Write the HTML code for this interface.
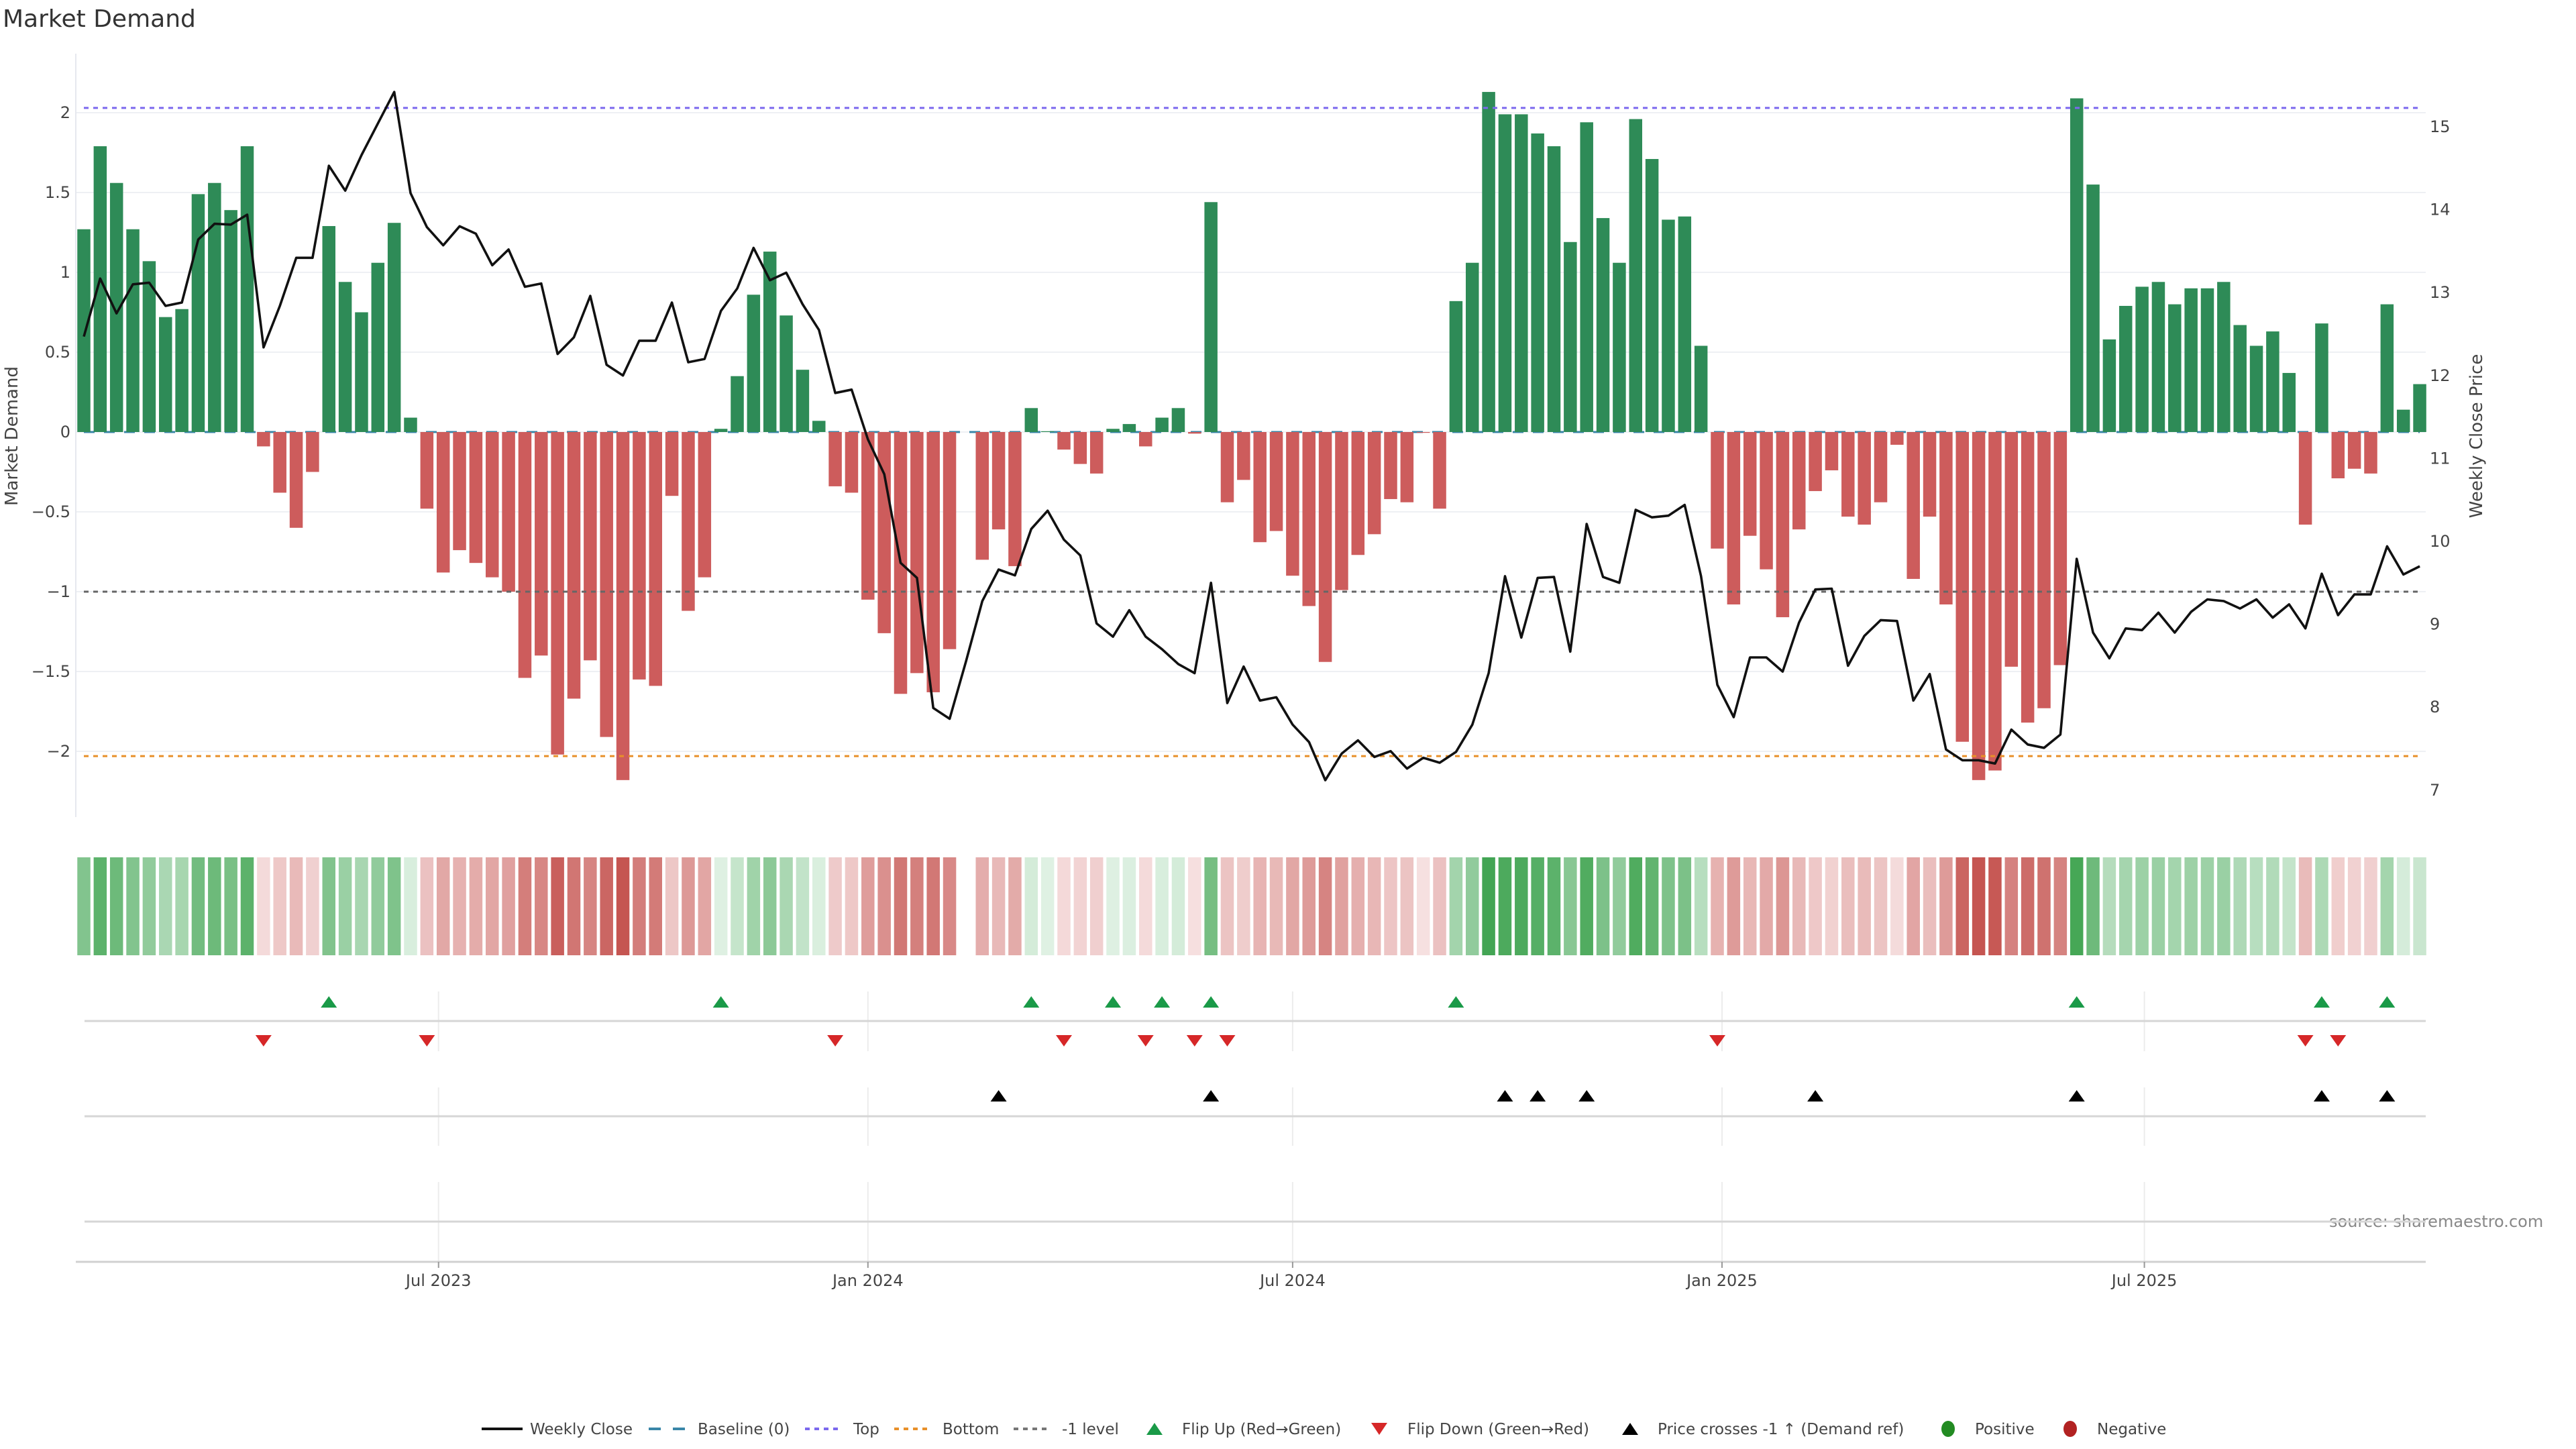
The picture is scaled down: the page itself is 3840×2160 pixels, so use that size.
<!DOCTYPE html>
<html><head><meta charset="utf-8"><title>Market Demand</title>
<style>
html,body{margin:0;padding:0;background:#fff;}
svg{display:block;font-family:"DejaVu Sans","Liberation Sans",sans-serif;}
</style></head>
<body>
<svg id="chart" width="3840" height="2160" viewBox="0 0 3840 2160" xmlns="http://www.w3.org/2000/svg">
<rect x="0" y="0" width="3840" height="2160" fill="#fff"/>
<text x="4" y="40" font-size="36" fill="#333">Market Demand</text>
<text transform="translate(26,650) rotate(-90)" text-anchor="middle" font-size="26" fill="#444">Market Demand</text>
<text transform="translate(3700,650) rotate(-90)" text-anchor="middle" font-size="26" fill="#444">Weekly Close Price</text>
<text x="3472" y="1829" font-size="24" fill="#888">source: sharemaestro.com</text>
<g id="plot"></g>
<g id="legend" font-size="23" fill="#444">
  <g><line x1="718" y1="2130" x2="779" y2="2130" stroke="#111" stroke-width="4"/><text x="790" y="2138">Weekly Close</text></g>
  <g><line x1="967" y1="2130" x2="1022" y2="2130" stroke="#3a86a8" stroke-width="4" stroke-dasharray="18,18"/><text x="1040" y="2138">Baseline (0)</text></g>
  <g><line x1="1200" y1="2130" x2="1255" y2="2130" stroke="#7b68ee" stroke-width="4" stroke-dasharray="7,7"/><text x="1272" y="2138">Top</text></g>
  <g><line x1="1333" y1="2130" x2="1388" y2="2130" stroke="#e8902a" stroke-width="4" stroke-dasharray="7,7"/><text x="1405" y="2138">Bottom</text></g>
  <g><line x1="1511" y1="2130" x2="1566" y2="2130" stroke="#777" stroke-width="4" stroke-dasharray="7,7"/><text x="1583" y="2138">-1 level</text></g>
  <g><path d="M1709,2139 L1733,2139 L1721,2121 Z" fill="#1a9a48"/><text x="1762" y="2138">Flip Up (Red→Green)</text></g>
  <g><path d="M2044,2121 L2068,2121 L2056,2139 Z" fill="#d62728"/><text x="2098" y="2138">Flip Down (Green→Red)</text></g>
  <g><path d="M2418,2139 L2442,2139 L2430,2121 Z" fill="#000"/><text x="2471" y="2138">Price crosses -1 ↑ (Demand ref)</text></g>
  <g><ellipse cx="2904" cy="2130" rx="10" ry="12" fill="#228b22"/><text x="2944" y="2138">Positive</text></g>
  <g><ellipse cx="3086" cy="2130" rx="10" ry="12" fill="#b22222"/><text x="3126" y="2138">Negative</text></g>
</g>
</svg>
<script>
const demand = [1.27,1.79,1.56,1.27,1.07,0.72,0.77,1.49,1.56,1.39,
1.79,-0.09,-0.38,-0.6,-0.25,1.29,0.94,0.75,1.06,1.31,
0.09,-0.48,-0.88,-0.74,-0.82,-0.91,-1.0,-1.54,-1.4,-2.02,
-1.67,-1.43,-1.91,-2.18,-1.55,-1.59,-0.4,-1.12,-0.91,0.02,
0.35,0.86,1.13,0.73,0.39,0.07,-0.34,-0.38,-1.05,-1.26,
-1.64,-1.51,-1.63,-1.36,null,-0.8,-0.61,-0.84,0.15,0.005,
-0.11,-0.2,-0.26,0.02,0.05,-0.09,0.09,0.15,-0.01,1.44,
-0.44,-0.3,-0.69,-0.62,-0.9,-1.09,-1.44,-0.99,-0.77,-0.64,
-0.42,-0.44,-0.005,-0.48,0.82,1.06,2.13,1.99,1.99,1.87,
1.79,1.19,1.94,1.34,1.06,1.96,1.71,1.33,1.35,0.54,
-0.73,-1.08,-0.65,-0.86,-1.16,-0.61,-0.37,-0.24,-0.53,-0.58,
-0.44,-0.08,-0.92,-0.53,-1.08,-1.94,-2.18,-2.12,-1.47,-1.82,
-1.73,-1.46,2.09,1.55,0.58,0.79,0.91,0.94,0.8,0.9,
0.9,0.94,0.67,0.54,0.63,0.37,-0.58,0.68,-0.29,-0.23,
-0.26,0.8,0.14,0.3];
const price = [12.47,13.17,12.75,13.1,13.12,12.84,12.88,13.64,13.83,13.82,
13.94,12.34,12.84,13.42,13.42,14.53,14.23,14.66,15.04,15.42,
14.2,13.79,13.57,13.8,13.71,13.33,13.52,13.07,13.11,12.26,
12.46,12.96,12.13,12.0,12.42,12.42,12.88,12.16,12.2,12.78,
13.05,13.54,13.15,13.24,12.86,12.55,11.79,11.83,11.23,10.81,
9.74,9.56,7.99,7.86,8.55,9.28,9.66,9.59,10.15,10.37,
10.02,9.83,9.01,8.85,9.17,8.85,8.7,8.52,8.41,9.5,
8.05,8.49,8.08,8.12,7.79,7.58,7.12,7.44,7.6,7.4,
7.47,7.26,7.39,7.33,7.46,7.79,8.41,9.58,8.84,9.56,
9.57,8.67,10.21,9.57,9.5,10.38,10.29,10.31,10.44,9.58,
8.27,7.88,8.6,8.6,8.43,9.02,9.42,9.43,8.5,8.86,
9.05,9.04,8.08,8.4,7.49,7.36,7.36,7.32,7.73,7.55,
7.51,7.67,9.79,8.9,8.59,8.95,8.93,9.14,8.9,9.15,
9.3,9.28,9.19,9.3,9.08,9.24,8.95,9.61,9.11,9.36,
9.36,9.94,9.6,9.7];
const startDate = "2023-01-30";
const xTickDates = ["2023-07-01","2024-01-01","2024-07-01","2025-01-01","2025-07-01"];
const xTickLabels = ["Jul 2023","Jan 2024","Jul 2024","Jan 2025","Jul 2025"];
const demandTicks = [2,1.5,1,0.5,0,-0.5,-1,-1.5,-2];
const demandTickLabels = ["2","1.5","1","0.5","0","\u22120.5","\u22121","\u22121.5","\u22122"];
const priceTicks = [15,14,13,12,11,10,9,8,7];
const topLevel = 2.03;
const bottomLevel = -2.03;
const minusLevel = -1;

const NS = "http://www.w3.org/2000/svg";
const plot = document.getElementById("plot");
function mk(tag, attrs, parent){const e=document.createElementNS(NS,tag);for(const k in attrs)e.setAttribute(k,attrs[k]);(parent||plot).appendChild(e);return e;}

const X0 = 125, STEP = 24.35, BARW = 19.5;
const PLOT_L = 113, PLOT_R = 3616;
function xIdx(i){return X0 + i*STEP;}
function xDate(s){const d=(Date.parse(s)-Date.parse(startDate))/86400000;return X0 + d/7*STEP;}
function yD(v){return 644 - 238*v;}
function yP(p){return 189 + (15-p)*123.6;}
function pFromY(y){return 15 - (y-189)/123.6;}

// gridlines
demandTicks.forEach((t,k)=>{
  const g = mk("line",{x1:PLOT_L,x2:PLOT_R,y1:yD(t),y2:yD(t),stroke:"#eef0f4","stroke-width":2});
  
  
  const lb = mk("text",{x:105,y:yD(t)+8,"text-anchor":"end","font-size":24,fill:"#444"});
  lb.textContent = demandTickLabels[k];
  
  
});
priceTicks.forEach(p=>{
  const lb = mk("text",{x:3622,y:yP(p)+8,"font-size":24,fill:"#444"});
  lb.textContent = String(p);
  
  
});
const spine = mk("line",{x1:PLOT_L,x2:PLOT_L,y1:80,y2:1218,stroke:"#e6e8ee","stroke-width":2});



// baseline
const xa = xIdx(0), xb = xIdx(demand.length-1);
const base = mk("line",{x1:xa,x2:xb,y1:yD(0),y2:yD(0),stroke:"#3a86a8","stroke-width":3,"stroke-dasharray":"16,14"});



// bars
demand.forEach((v,i)=>{
  if(v===null) return;
  const y0=yD(0), y1=yD(v);
  const r = mk("rect",{x:xIdx(i)-BARW/2,y:Math.min(y0,y1),width:BARW,height:Math.max(Math.abs(y1-y0),0.5),fill:v>=0?"#2e8b57":"#cd5c5c"});
  
  
});

// reference lines
[[topLevel,"#7b68ee","top-level-line"],[bottomLevel,"#e8902a","bottom-level-line"],[minusLevel,"#666","minus-one-level-line"]].forEach(r=>{
  const l = mk("line",{x1:xa,x2:xb,y1:yD(r[0]),y2:yD(r[0]),stroke:r[1],"stroke-width":3,"stroke-dasharray":"7,7"});
  
  
});

// price line
const pts = price.map((p,i)=>xIdx(i).toFixed(1)+","+yP(p).toFixed(1)).join(" ");
const pl = mk("polyline",{points:pts,fill:"none",stroke:"#111","stroke-width":3.6,"stroke-linejoin":"round"});



// heat strip
function lerp(a,b,t){return a.map((c,k)=>Math.round(c+(b[k]-c)*t));}
demand.forEach((v,i)=>{
  if(v===null) return;
  const t = Math.min(Math.abs(v)/2.2,1);
  const c = v>=0 ? lerp([223,241,227],[62,163,79],t) : lerp([246,224,224],[197,84,80],t);
  const r = mk("rect",{x:xIdx(i)-BARW/2,y:1278,width:BARW,height:146,fill:"rgb("+c.join(",")+")"});
  
  
});

// lower rows grid
[[1478,1567],[1621,1708],[1762,1881]].forEach(seg=>{
  xTickDates.forEach(d=>{
    const l = mk("line",{x1:xDate(d),x2:xDate(d),y1:seg[0],y2:seg[1],stroke:"#ececec","stroke-width":2});
    
    
  });
});
[1522,1664,1821].forEach(y=>{
  const l = mk("line",{x1:126,x2:PLOT_R,y1:y,y2:y,stroke:"#d6d6d6","stroke-width":3});
  
  
});
const xaxis = mk("line",{x1:PLOT_L,x2:PLOT_R,y1:1881,y2:1881,stroke:"#d0d0d0","stroke-width":3});


xTickDates.forEach((d,k)=>{
  const tk = mk("line",{x1:xDate(d),x2:xDate(d),y1:1881,y2:1890,stroke:"#999","stroke-width":2});
  
  
  const lb = mk("text",{x:xDate(d),y:1917,"text-anchor":"middle","font-size":24,fill:"#444"});
  lb.textContent = xTickLabels[k];
  
  
});

// markers
function tri(cx,cy,up,fill,name){
  const d = up ? `M${cx-12},${cy+8} L${cx+12},${cy+8} L${cx},${cy-9} Z` : `M${cx-12},${cy-8} L${cx+12},${cy-8} L${cx},${cy+9} Z`;
  const p = mk("path",{d:d,fill:fill});
  
  
}
let prev = null;
demand.forEach((v,i)=>{
  if(v===null) return;
  if(prev!==null){
    if(prev<0 && v>0) tri(xIdx(i),1494,true,"#1a9a48","flip-up-marker");
    if(prev>0 && v<0) tri(xIdx(i),1551,false,"#d62728","flip-down-marker");
  }
  prev = v;
});
const refPrice = pFromY(yD(minusLevel));
price.forEach((p,i)=>{
  if(i>0 && price[i-1] < refPrice && p >= refPrice) tri(xIdx(i),1634,true,"#000","price-cross-marker");
});
</script>
</body></html>
